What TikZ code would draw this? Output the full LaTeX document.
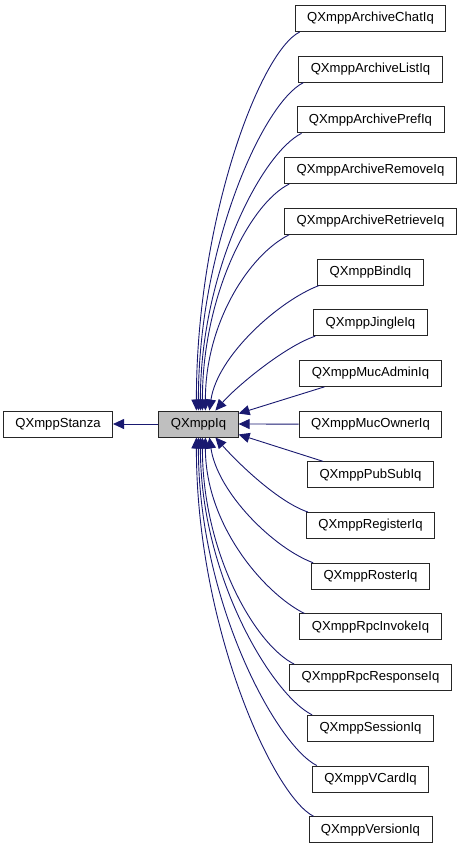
\documentclass[tikz,border=0pt]{standalone}
\usepackage{fontspec}
\setmainfont{Liberation Sans}
\usetikzlibrary{arrows.meta,calc}
\definecolor{edgeblue}{HTML}{191970}
\definecolor{iqgray}{HTML}{BFBFBF}
\begin{document}
\begin{tikzpicture}[x=1pt,y=1pt,
  cls/.style={draw=black!85, line width=0.9pt, fill=white, font=\fontsize{13.1}{14}\selectfont, inner xsep=12pt, inner ysep=0pt, minimum height=26pt, anchor=center},
  inh/.style={draw=edgeblue, line width=0.9pt, -{Triangle[length=11pt,width=10pt]}}]
\useasboundingbox (0,0) rectangle (461,-848);
\node[cls] (stanza) at (58,-424) {QXmppStanza};
\node[cls, fill=iqgray] (iq) at (198.5,-424) {QXmppIq};
\node[cls] (chat)     at (370.5,-18.5) {QXmppArchiveChatIq};
\node[cls] (list)     at (370.5,-69.2) {QXmppArchiveListIq};
\node[cls] (pref)     at (370.5,-119.9) {QXmppArchivePrefIq};
\node[cls] (remove)   at (370.5,-170.6) {QXmppArchiveRemoveIq};
\node[cls] (retrieve) at (370.5,-221.3) {QXmppArchiveRetrieveIq};
\node[cls] (bind)     at (370.5,-272.0) {QXmppBindIq};
\node[cls] (jingle)   at (370.5,-322.7) {QXmppJingleIq};
\node[cls] (mucadmin) at (370.5,-373.4) {QXmppMucAdminIq};
\node[cls] (mucowner) at (370.5,-424.1) {QXmppMucOwnerIq};
\node[cls] (pubsub)   at (370.5,-474.8) {QXmppPubSubIq};
\node[cls] (register) at (370.5,-525.5) {QXmppRegisterIq};
\node[cls] (roster)   at (370.5,-576.2) {QXmppRosterIq};
\node[cls] (rpcinv)   at (370.5,-626.9) {QXmppRpcInvokeIq};
\node[cls] (rpcresp)  at (370.5,-677.6) {QXmppRpcResponseIq};
\node[cls] (session)  at (370.5,-728.3) {QXmppSessionIq};
\node[cls] (vcard)    at (370.5,-779.0) {QXmppVCardIq};
\node[cls] (version)  at (370.5,-829.7) {QXmppVersionIq};

\draw[inh] (iq.west) -- (stanza.east);

\draw[inh] ($(chat.south west)+(5,0)$) .. controls +(-40,-20) and +(0,190) .. ($(iq.north west)+(38,0)$);
\draw[inh] ($(list.south west)+(5,0)$) .. controls +(-40,-20) and +(0,165) .. ($(iq.north west)+(40,0)$);
\draw[inh] ($(pref.south west)+(5,0)$) .. controls +(-40,-20) and +(0,139) .. ($(iq.north west)+(42,0)$);
\draw[inh] ($(remove.south west)+(5,0)$) .. controls +(-40,-20) and +(0,114) .. ($(iq.north west)+(44,0)$);
\draw[inh] ($(retrieve.south west)+(5,0)$) .. controls +(-40,-20) and +(0,88) .. ($(iq.north west)+(47,0)$);
\draw[inh] ($(bind.south west)+(2,0)$) .. controls +(-40,-15) and +(8,55) .. ($(iq.north west)+(51,0)$);
\draw[inh] ($(jingle.south west)+(2,0)$) .. controls +(-30,-10) and +(22,25) .. ($(iq.north west)+(57,0)$);
\draw[inh] ($(mucadmin.south west)+(25,0)$) -- ($(iq.north east)+(0,-3)$);
\draw[inh] (mucowner.west) -- (iq.east);
\draw[inh] ($(pubsub.north west)+(16,0)$) -- ($(iq.south east)+(0,3)$);
\draw[inh] ($(register.north west)+(2,0)$) .. controls +(-30,10) and +(22,-25) .. ($(iq.south west)+(57,0)$);
\draw[inh] ($(roster.north west)+(2,0)$) .. controls +(-40,15) and +(8,-55) .. ($(iq.south west)+(51,0)$);
\draw[inh] ($(rpcinv.north west)+(5,0)$) .. controls +(-40,20) and +(0,-88) .. ($(iq.south west)+(47,0)$);
\draw[inh] ($(rpcresp.north west)+(5,0)$) .. controls +(-40,20) and +(0,-114) .. ($(iq.south west)+(44,0)$);
\draw[inh] ($(session.north west)+(5,0)$) .. controls +(-40,20) and +(0,-139) .. ($(iq.south west)+(42,0)$);
\draw[inh] ($(vcard.north west)+(5,0)$) .. controls +(-40,20) and +(0,-165) .. ($(iq.south west)+(40,0)$);
\draw[inh] ($(version.north west)+(5,0)$) .. controls +(-40,20) and +(0,-190) .. ($(iq.south west)+(38,0)$);
\end{tikzpicture}
\end{document}
